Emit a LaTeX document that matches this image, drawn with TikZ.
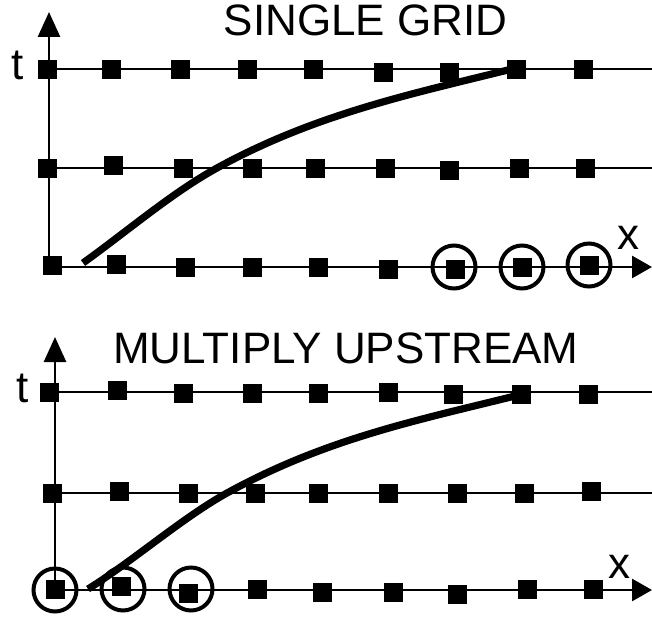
\documentclass[tikz,border=0pt]{standalone}
\usepackage{fontspec}
\setmainfont{Liberation Sans}
\usetikzlibrary{arrows.meta}
\begin{document}
\begin{tikzpicture}[x=1pt,y=-1pt,
  sq/.style={fill=black,minimum size=19pt,inner sep=0pt,outer sep=0pt},
  ring/.style={circle,draw=black,line width=4pt,minimum size=43pt,inner sep=0pt},
  gridline/.style={line width=2.8pt},
  axisv/.style={line width=2.8pt,-{Triangle[length=25pt,width=22pt]}},
  axish/.style={line width=2.8pt,-{Triangle[length=20pt,width=22pt]}},
  thickcurve/.style={line width=7.2pt},
  lbl/.style={inner sep=0pt,font=\fontsize{44pt}{50pt}\selectfont},
  ]
\useasboundingbox (0,0) rectangle (652,618);

% ---------- top panel ----------
\foreach \n/\x/\y in {1/47/69,2/111/69,3/180/69,4/247/69,5/313/69,6/383/72,7/449/72,8/516/69,9/583/69}
  \node[sq] (a\n) at (\x,\y) {};
\foreach \n/\x/\y in {1/47/168,2/113/165,3/183/168,4/252/168,5/315/168,6/385/168,7/449/170,8/519/168,9/585/168}
  \node[sq] (b\n) at (\x,\y) {};
\foreach \n/\x/\y in {1/52/265,2/116/264,3/185/267,4/252/267,5/318/267,6/388/269,7/455/269,8/522/267,9/589/265}
  \node[sq] (c\n) at (\x,\y) {};

\coordinate (astart) at (47,69);
\coordinate (aend) at (652,69);
\coordinate (bstart) at (47,168);
\coordinate (bend) at (652,168);
\coordinate (o1) at (49,267);
\coordinate (xtip1) at (652,267);
\coordinate (ttip1) at (49,12);

\draw[gridline] (astart) -- (aend);
\draw[gridline] (bstart) -- (bend);
\draw[axish] (o1) -- (xtip1);
\draw[axisv] (o1) -- (ttip1);

\node[ring] (r1) at (454,267) {};
\node[ring] (r2) at (522,267) {};
\node[ring] (r3) at (589,265) {};

\coordinate (cs1) at (83,263);
\coordinate (cm1) at (217,168);
\coordinate (ce1) at (516,68);
\draw[thickcurve] (cs1) .. controls (128,230.6) and (172,192.8) .. (cm1)
                        .. controls (317,113) and (416,93) .. (ce1);

\node[lbl,anchor=base] (title1) at (365.5,36) {SINGLE GRID};
\node[lbl,anchor=base] (t1) at (17.5,79) {t};
\node[lbl,anchor=base] (x1) at (628,249) {x};

% ---------- bottom panel ----------
\foreach \n/\x/\y in {1/49/392,2/117/390,3/183/393,4/252/393,5/318/393,6/388/392,7/453/394,8/521/394,9/588/394}
  \node[sq] (d\n) at (\x,\y) {};
\foreach \n/\x/\y in {1/52/493,2/119/491,3/188/493,4/255/493,5/318/493,6/388/493,7/457/493,8/524/493,9/591/491}
  \node[sq] (e\n) at (\x,\y) {};
\foreach \n/\x/\y in {1/55/589,2/121/586,3/188/593,4/257/589,5/322/592,6/393/592,7/457/594,8/527/589,9/593/589}
  \node[sq] (f\n) at (\x,\y) {};

\coordinate (dstart) at (49,392);
\coordinate (dend) at (652,392);
\coordinate (estart) at (52,493);
\coordinate (eend) at (652,493);
\coordinate (o2) at (55,590);
\coordinate (xtip2) at (652,590);
\coordinate (ttip2) at (55,337);

\draw[gridline] (dstart) -- (dend);
\draw[gridline] (estart) -- (eend);
\draw[axish] (o2) -- (xtip2);
\draw[axisv] (o2) -- (ttip2);

\node[ring] (r4) at (55,590) {};
\node[ring] (r5) at (123,589) {};
\node[ring] (r6) at (191,589) {};

\coordinate (cs2) at (88,589);
\coordinate (cm2) at (227,493);
\coordinate (ce2) at (519,395);
\draw[thickcurve] (cs2) .. controls (133,561) and (182,518) .. (cm2)
                        .. controls (327,438) and (419,420) .. (ce2);

\node[lbl,anchor=base] (title2) at (346,363) {MULTIPLY UPSTREAM};
\node[lbl,anchor=base] (t2) at (22.5,402) {t};
\node[lbl,anchor=base] (x2) at (619,578) {x};
\end{tikzpicture}
\end{document}
